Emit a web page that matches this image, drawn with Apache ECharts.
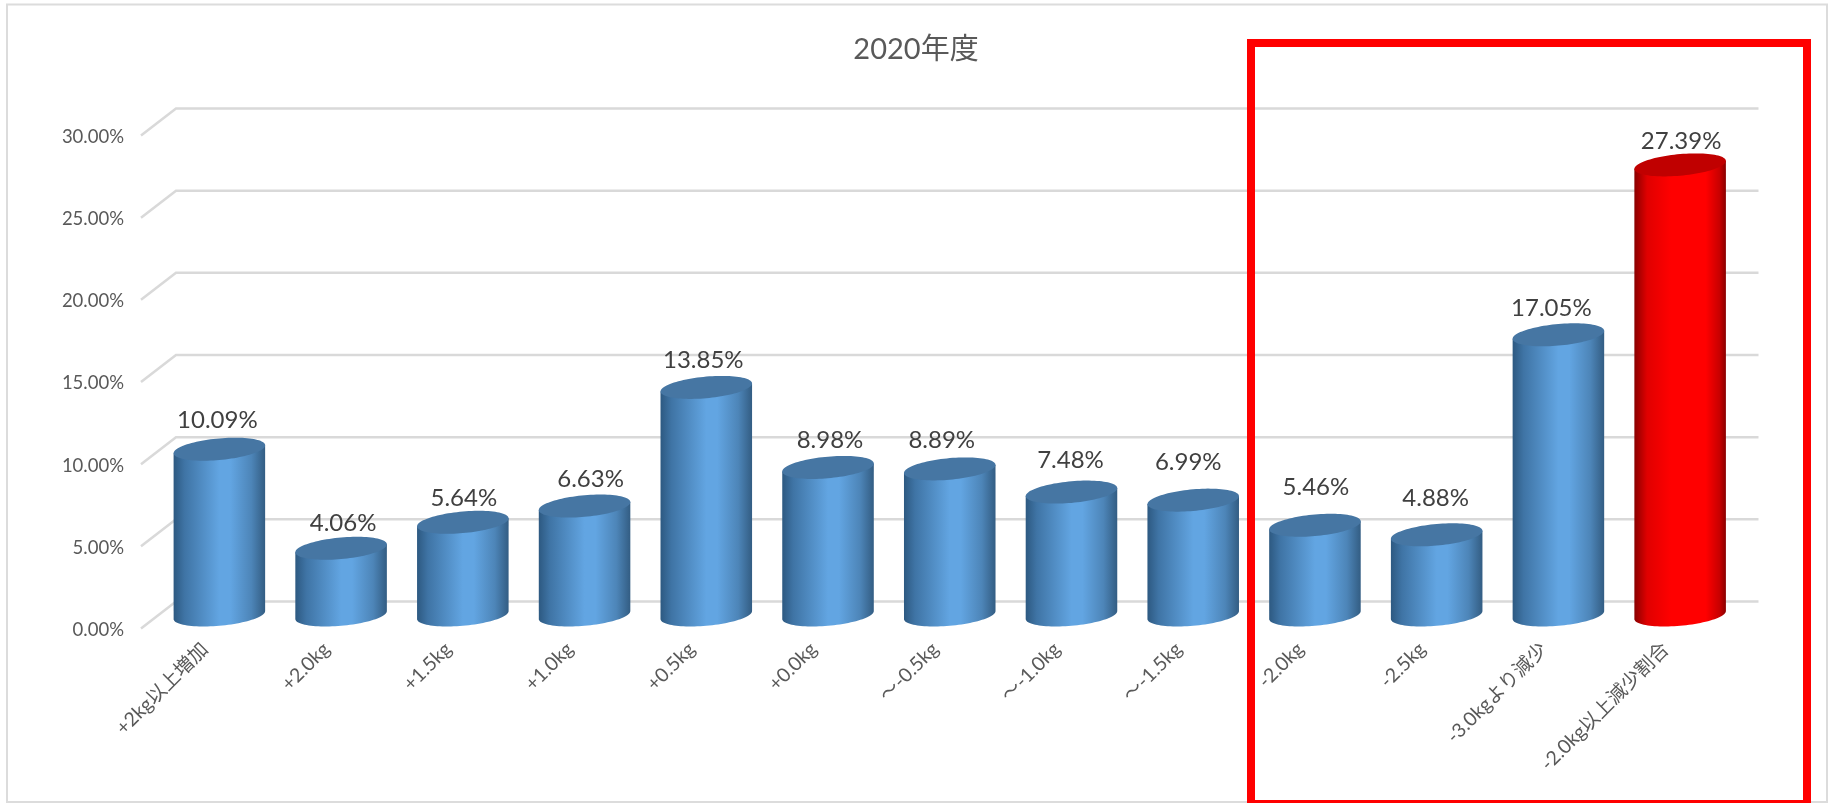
<!DOCTYPE html>
<html>
<head>
<meta charset="utf-8">
<script src="https://cdn.jsdelivr.net/npm/echarts@6/dist/echarts.min.js"></script>
<style>html,body{margin:0;padding:0;background:#fff}#c{width:1833px;height:803px}</style>
</head>
<body>
<div id="c"></div>
<script>
const titleText = '2020年度';
const categories = ['+2kg以上増加','+2.0kg','+1.5kg','+1.0kg','+0.5kg','+0.0kg','～-0.5kg','～-1.0kg','～-1.5kg','-2.0kg','-2.5kg','-3.0kgより減少','-2.0kg以上減少割合'];
const values = [10.09,4.06,5.64,6.63,13.85,8.98,8.89,7.48,6.99,5.46,4.88,17.05,27.39];
const yTicks = [0,5,10,15,20,25,30];
const highlighted = '-2.0kg以上減少割合';

const FONT = 'Lato, "Noto Sans CJK JP", sans-serif';
const DX = 17.5, DY = 13.5;
// hand-placed data labels in the original chart: offset from the default spot
const labelShift = [[-2,-3],[2,1],[1,2],[6,-1],[-3,-1],[2,-1],[-8,-3],[-1,-6],[-5,-12],[1,-12],[-1,-11],[-7,-1],[1,2]];

function gradient(stops){
  return {type:'linear',x:0,y:0,x2:1,y2:0,colorStops:stops.map(s=>({offset:s[0],color:s[1]}))};
}
const blueBody = gradient([[0,'#2d5981'],[0.12,'#3f74a5'],[0.5,'#62a5e2'],[0.62,'#62a5e2'],[0.85,'#4d85b8'],[1,'#335d83']]);
const redBody = gradient([[0,'#8a0000'],[0.14,'#e00000'],[0.4,'#ff0000'],[0.78,'#ff0000'],[0.93,'#c80000'],[1,'#8a0000']]);

function arc(cx,cy,a,b,k,from,to,n){
  const pts=[];
  for(let i=0;i<=n;i++){
    const t=from+(to-from)*i/n;
    const x=a*Math.cos(t), y=b*Math.sin(t)-k*x;
    pts.push([cx+x,cy+y]);
  }
  return pts;
}

function renderCylinder(params,api){
  const idx=api.value(0), v=api.value(1);
  const base=api.coord([idx,0]), top=api.coord([idx,v]);
  const a=api.size([1,0])[0]*0.376, b=10.8, k=0.087;
  const red=categories[idx]===highlighted;
  const front=arc(base[0],base[1],a,b,k,0,Math.PI,48);
  const body=[[top[0]+a,top[1]-k*a],[base[0]+a,base[1]-k*a]].concat(front.slice(1));
  body.push([top[0]-a,top[1]+k*a]);
  const s=labelShift[idx];
  return {type:'group',children:[
    {type:'polygon',shape:{points:body},style:{fill:red?redBody:blueBody}},
    {type:'polygon',shape:{points:arc(top[0],top[1],a,b,k,0,Math.PI*2,96)},style:{fill:red?'#c00000':'#4676a3'}},
    {type:'text',style:{text:v.toFixed(2)+'%',x:top[0]+s[0],y:top[1]-26+s[1],align:'center',verticalAlign:'middle',font:'24px '+FONT,fill:'#404040'}}
  ]};
}

function renderGridLine(params,api){
  const y=api.coord([0,api.value(1)])[1], cs=params.coordSys;
  const x0=cs.x-DX, x1=cs.x+DX, x2=cs.x+cs.width+DX;
  return {type:'polyline',shape:{points:[[x0,y+DY],[x1,y-DY],[x2,y-DY]]},style:{fill:null,stroke:'#d9d9d9',lineWidth:2.5}};
}

const chart=echarts.init(document.getElementById('c'));
chart.setOption({
  animation:false,
  backgroundColor:'#fff',
  title:{text:titleText,left:911,top:30,textAlign:'center',textStyle:{fontFamily:FONT,fontSize:29,fontWeight:'normal',color:'#595959'}},
  grid:[
    {left:158.5,top:122,width:1582.5,height:493},
    {left:144,top:137,width:1582.5,height:493}
  ],
  xAxis:[
    {type:'category',gridIndex:0,data:categories,show:false},
    {type:'category',gridIndex:1,data:categories,axisLine:{show:false},axisTick:{show:false},splitLine:{show:false},
     axisLabel:{interval:0,rotate:45,margin:16,fontFamily:FONT,fontSize:19.5,color:'#595959'}}
  ],
  yAxis:[
    {type:'value',gridIndex:0,min:0,max:30,interval:5,show:false},
    {type:'value',gridIndex:1,min:0,max:30,interval:5,axisLine:{show:false},axisTick:{show:false},splitLine:{show:false},
     axisLabel:{margin:20,fontFamily:FONT,fontSize:18.5,color:'#595959',formatter:v=>v.toFixed(2)+'%'}}
  ],
  series:[
    {type:'custom',z:1,xAxisIndex:0,yAxisIndex:0,renderItem:renderGridLine,data:yTicks.map(v=>[0,v]),encode:{x:0,y:1},silent:true},
    {type:'custom',z:2,xAxisIndex:0,yAxisIndex:0,renderItem:renderCylinder,data:values.map((v,i)=>[i,v]),encode:{x:0,y:1}}
  ],
  graphic:[
    {type:'rect',z:0,shape:{x:7,y:4.5,width:1820,height:797.5},style:{fill:null,stroke:'#dcdcdc',lineWidth:2},silent:true},
    {type:'rect',z:10,shape:{x:1251,y:43,width:556,height:761},style:{fill:null,stroke:'#ff0000',lineWidth:8},silent:true}
  ]
});
</script>
</body>
</html>
